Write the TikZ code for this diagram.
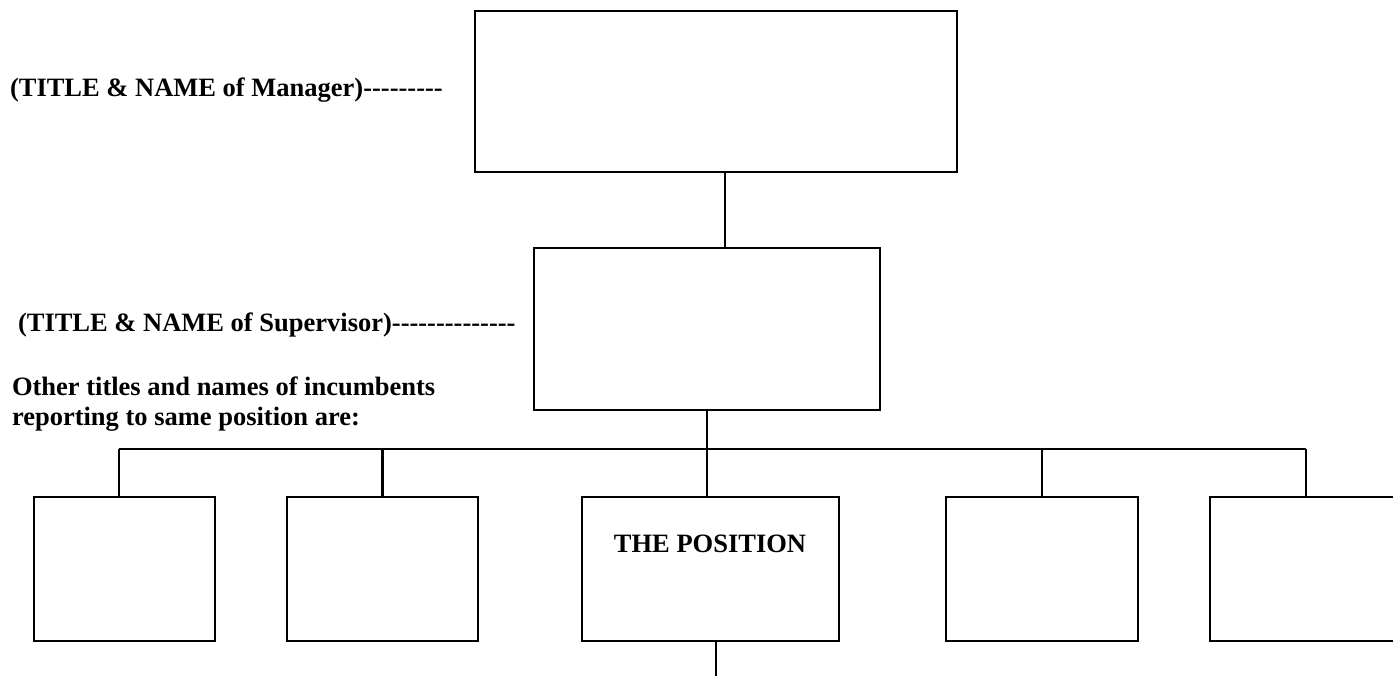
\documentclass[tikz,border=0pt]{standalone}
\usepackage{fontspec}
\setmainfont{Liberation Serif}[Ligatures=TeXOff]
\begin{document}
\begin{tikzpicture}[x=1bp,y=-1bp,
  box/.style={draw, line width=2.6bp, inner sep=0pt, outer sep=0pt},
  link/.style={line width=2.3bp},
  lbl/.style={font=\bfseries\fontsize{26.5bp}{30bp}\selectfont, anchor=base west, inner sep=0pt, outer sep=0pt}]
\useasboundingbox (0,0) rectangle (1393,676);
\clip (0,0) rectangle (1393,676);
% boxes
\node[box, minimum width=482bp, minimum height=161bp] (mgr) at (716,91.5) {};
\node[box, minimum width=346bp, minimum height=162bp] (sup) at (707,329) {};
\node[box, minimum width=181bp, minimum height=144bp] (b1) at (124.5,569) {};
\node[box, minimum width=191bp, minimum height=144bp] (b2) at (382.5,569) {};
\node[box, minimum width=257bp, minimum height=144bp] (pos) at (710.5,569) {};
\node[box, minimum width=192bp, minimum height=144bp] (b4) at (1042,569) {};
\node[box, minimum width=230bp, minimum height=144bp] (b5) at (1325,569) {};
% labels
\node[lbl] (tmgr) at (10,97) {(TITLE \& NAME of Manager)---------};
\node[lbl] (tsup) at (18,331) {(TITLE \& NAME of Supervisor)--------------};
\node[lbl] (tother) at (12,395) {Other titles and names of incumbents};
\node[lbl] (trep) at (12,425) {reporting to same position are:};
\node[lbl, anchor=base] (tpos) at (710,552) {THE POSITION};
% helper coordinates
\coordinate (m1) at (725,0);
\coordinate (barL) at (119,449);
\coordinate (barR) at (1306,449);
\coordinate (bar) at (707,449);
\coordinate (p1) at (716,0);
\coordinate (pend) at (716,676);
% connectors
\draw[link] (mgr.south -| m1) -- (sup.north -| m1);
\draw[link] (sup.south) -- (bar);
\draw[link] (barL) -- (barR);
\draw[link] (barL) -- (b1.north -| barL);
\draw[link] (b2.north |- barL) -- (b2.north);
\draw[link] (bar) -- (pos.north -| bar);
\draw[link] (b4.north |- barL) -- (b4.north);
\draw[link] (barR) -- (b5.north -| barR);
\draw[link] (pos.south -| p1) -- (pend);
\end{tikzpicture}
\end{document}
